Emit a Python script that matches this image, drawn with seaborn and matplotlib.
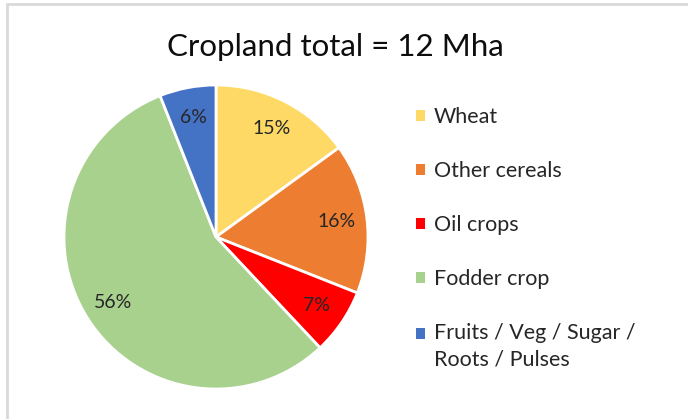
import matplotlib
matplotlib.use("Agg")
import matplotlib.pyplot as plt
import seaborn as sns
from matplotlib.patches import Rectangle

# Data
crops = ["Wheat", "Other cereals", "Oil crops", "Fodder crop", "Fruits / Veg / Sugar /\nRoots / Pulses"]
shares = [15, 16, 7, 56, 6]
colors = ["#FFD966", "#ED7D31", "#FF0000", "#A9D18E", "#4472C4"]
title = "Cropland total = 12 Mha"

sns.set_theme(style="white")
plt.rcParams["font.family"] = ["Lato", "DejaVu Sans"]

fig = plt.figure(figsize=(6.88, 4.19), dpi=100)

# light grey chart frame (only top/left visible in the crop)
fig.add_artist(Rectangle((7 / 688, -0.1), 1.2, (419 - 4) / 419 + 0.1,
                         transform=fig.transFigure, fill=False,
                         edgecolor="#D9D9D9", linewidth=2))

# pie axes: center (216, 237) px, radius 152 px
ax = fig.add_axes([64 / 688, 30 / 419, 304 / 688, 304 / 419])
wedges, texts, autotexts = ax.pie(
    shares, colors=colors, startangle=90, counterclock=False,
    autopct=lambda p: f"{p:.0f}%", pctdistance=0.8,
    wedgeprops=dict(edgecolor="white", linewidth=2),
    textprops=dict(fontsize=14, color="#262626"))
ax.set_xlim(-1, 1)
ax.set_ylim(-1, 1)
ax.set_aspect("equal")
ax.axis("off")

fig.text(335 / 688, 1 - 47 / 419, title, ha="center", va="center",
         fontsize=22.5, color="#0D0D0D")

leg = ax.legend(wedges, crops, loc="upper left",
                bbox_to_anchor=(397 / 688, 1 - 88 / 419),
                bbox_transform=fig.transFigure, frameon=False,
                fontsize=15.5, handlelength=0.42, handleheight=0.42,
                handletextpad=0.4, labelspacing=1.58)
for t in leg.get_texts():
    t.set_color("#262626")
    t.set_linespacing(1.35)
for h in leg.legend_handles:
    h.set_edgecolor("none")
# square of the two-line entry sits next to its first line
last = leg.legend_handles[-1]
last.set_y(last.get_y() + 9.5)

fig.savefig("out.png", dpi=100)
